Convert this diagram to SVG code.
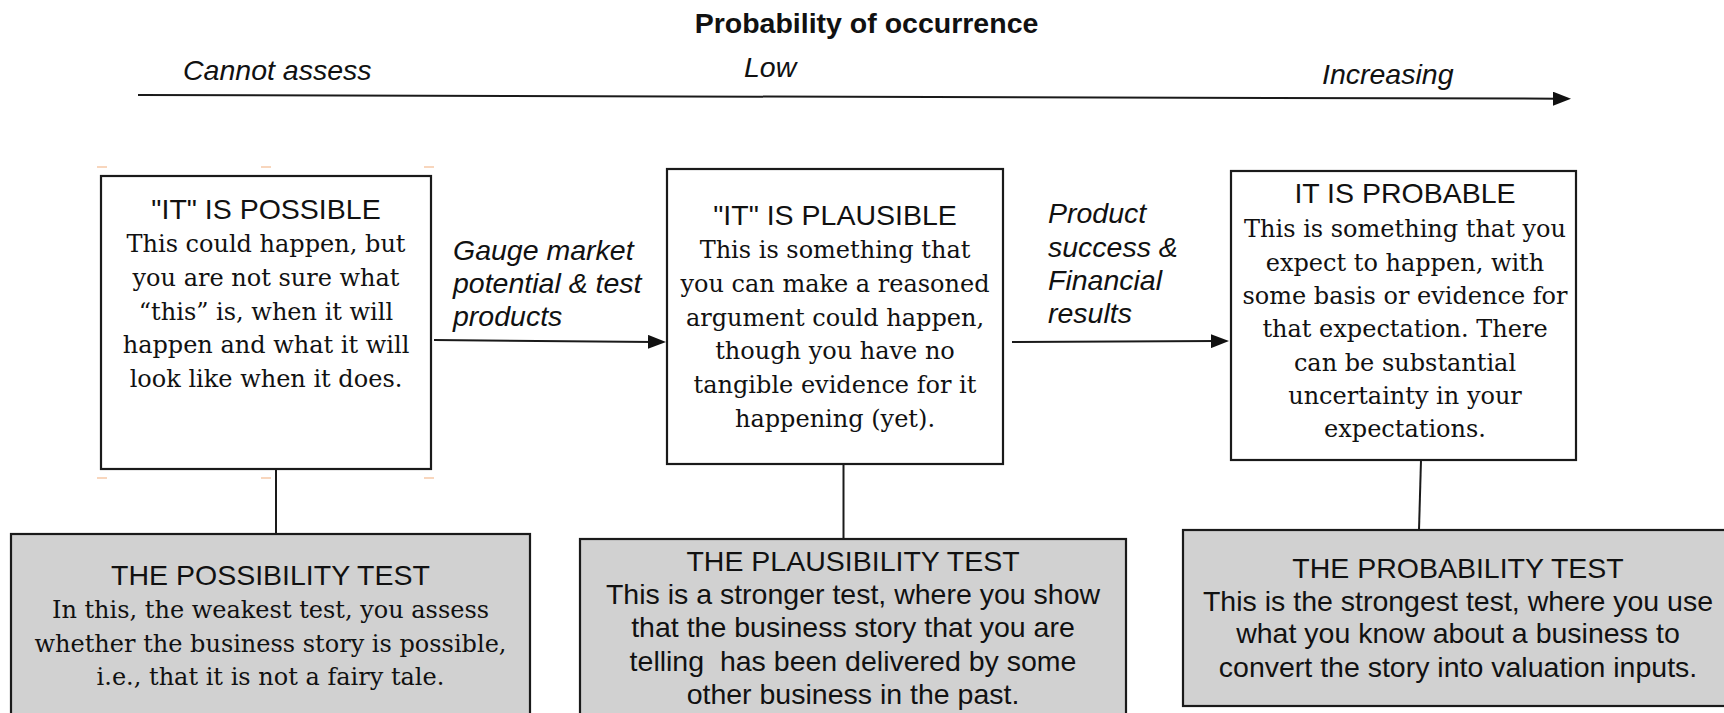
<svg xmlns="http://www.w3.org/2000/svg" width="1724" height="713" viewBox="0 0 1724 713">
<style>
  .sans { font-family: "Liberation Sans", Arial, Helvetica, sans-serif; font-size: 28.5px; fill: #111; }
  .it { font-style: italic; }
  .bold { font-weight: bold; }
  .serif { font-family: "DejaVu Serif", "Liberation Serif", serif; font-size: 24px; fill: #111; }
  .mid { text-anchor: middle; }
  .box { fill: #ffffff; stroke: #1a1a1a; stroke-width: 2.2; }
  .test { fill: #d1d1d1; stroke: #1a1a1a; stroke-width: 2.2; }
  .conn { stroke: #1a1a1a; stroke-width: 2; fill: none; }
  .handle { stroke: #f8d6bd; stroke-width: 2; }
</style>
<defs>
  <marker id="arrow" viewBox="0 0 18 14" refX="6" refY="7" markerWidth="18" markerHeight="14" markerUnits="userSpaceOnUse" orient="auto">
    <path d="M0,0 L18,7 L0,14 z" fill="#111"/>
  </marker>
</defs>
<rect width="1724" height="713" fill="#ffffff"/>

<g id="axis">
  <text class="sans bold mid" x="866.5" y="33">Probability of occurrence</text>
  <text class="sans it" x="183" y="80">Cannot assess</text>
  <text class="sans it" x="744" y="77">Low</text>
  <text class="sans it" x="1322" y="84">Increasing</text>
</g>

<g id="connectors">
  <path class="conn" d="M138,95 L1559,98.7" marker-end="url(#arrow)"/>
  <path class="conn" d="M434,340 L654,341.9" marker-end="url(#arrow)"/>
  <path class="conn" d="M1012,342 L1217,341.1" marker-end="url(#arrow)"/>
  <path class="conn" d="M276,469 L276,534"/>
  <path class="conn" d="M843.5,464 L843.5,539"/>
  <path class="conn" d="M1421,460 L1419,530"/>
  <text class="sans it" x="453" y="260">Gauge market</text>
  <text class="sans it" x="453" y="293">potential &amp; test</text>
  <text class="sans it" x="453" y="326">products</text>
  <text class="sans it" x="1048" y="223">Product</text>
  <text class="sans it" x="1048" y="257">success &amp;</text>
  <text class="sans it" x="1048" y="290">Financial</text>
  <text class="sans it" x="1048" y="323">results</text>
</g>

<g id="handles">
  <line class="handle" x1="97" y1="167" x2="107" y2="167"/>
  <line class="handle" x1="261" y1="167" x2="271" y2="167"/>
  <line class="handle" x1="424" y1="167" x2="434" y2="167"/>
  <line class="handle" x1="97" y1="478" x2="107" y2="478"/>
  <line class="handle" x1="261" y1="478" x2="271" y2="478"/>
  <line class="handle" x1="424" y1="478" x2="434" y2="478"/>
</g>

<g id="possible">
  <rect class="box" x="101" y="176" width="330" height="293"/>
  <text class="sans mid" x="266" y="219">"IT" IS POSSIBLE</text>
  <text class="serif mid" x="266" y="252">This could happen, but</text>
  <text class="serif mid" x="266" y="286">you are not sure what</text>
  <text class="serif mid" x="266" y="320">“this” is, when it will</text>
  <text class="serif mid" x="266" y="353">happen and what it will</text>
  <text class="serif mid" x="266" y="387">look like when it does.</text>
</g>

<g id="plausible">
  <rect class="box" x="667" y="169" width="336" height="295"/>
  <text class="sans mid" x="835" y="225">"IT" IS PLAUSIBLE</text>
  <text class="serif mid" x="835" y="258">This is something that</text>
  <text class="serif mid" x="835" y="292">you can make a reasoned</text>
  <text class="serif mid" x="835" y="326">argument could happen,</text>
  <text class="serif mid" x="835" y="359">though you have no</text>
  <text class="serif mid" x="835" y="393">tangible evidence for it</text>
  <text class="serif mid" x="835" y="427">happening (yet).</text>
</g>

<g id="probable">
  <rect class="box" x="1231" y="171" width="345" height="289"/>
  <text class="sans mid" x="1405" y="203">IT IS PROBABLE</text>
  <text class="serif mid" x="1405" y="237">This is something that you</text>
  <text class="serif mid" x="1405" y="271">expect to happen, with</text>
  <text class="serif mid" x="1405" y="304">some basis or evidence for</text>
  <text class="serif mid" x="1405" y="337">that expectation. There</text>
  <text class="serif mid" x="1405" y="371">can be substantial</text>
  <text class="serif mid" x="1405" y="404">uncertainty in your</text>
  <text class="serif mid" x="1405" y="437">expectations.</text>
</g>

<g id="possibility-test">
  <rect class="test" x="11" y="534" width="519" height="200"/>
  <text class="sans mid" x="270.5" y="585">THE POSSIBILITY TEST</text>
  <text class="serif mid" x="270.5" y="618">In this, the weakest test, you assess</text>
  <text class="serif mid" x="270.5" y="652">whether the business story is possible,</text>
  <text class="serif mid" x="270.5" y="685">i.e., that it is not a fairy tale.</text>
</g>

<g id="plausibility-test">
  <rect class="test" x="580" y="539" width="546" height="200"/>
  <text class="sans mid" x="853" y="571">THE PLAUSIBILITY TEST</text>
  <text class="sans mid" x="853" y="604">This is a stronger test, where you show</text>
  <text class="sans mid" x="853" y="637">that the business story that you are</text>
  <text class="sans mid" x="853" y="671" xml:space="preserve">telling  has been delivered by some</text>
  <text class="sans mid" x="853" y="704">other business in the past.</text>
</g>

<g id="probability-test">
  <rect class="test" x="1183" y="530" width="552" height="176"/>
  <text class="sans mid" x="1458" y="578">THE PROBABILITY TEST</text>
  <text class="sans mid" x="1458" y="611">This is the strongest test, where you use</text>
  <text class="sans mid" x="1458" y="643">what you know about a business to</text>
  <text class="sans mid" x="1458" y="677">convert the story into valuation inputs.</text>
</g>
</svg>
